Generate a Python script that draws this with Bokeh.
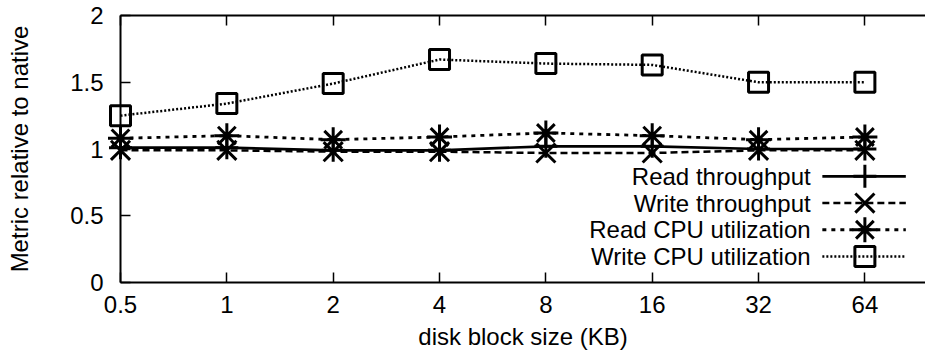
from bokeh.plotting import figure
from bokeh.models import FixedTicker, LinearAxis, Range1d, CustomLabelingPolicy
from bokeh.core.properties import value
from bokeh.embed import file_html
from bokeh.resources import INLINE

# ---- data ----
block_sizes = ["0.5", "1", "2", "4", "8", "16", "32", "64"]
read_tput = [1.01, 1.01, 0.99, 0.99, 1.02, 1.02, 1.00, 1.00]
write_tput = [0.99, 0.99, 0.98, 0.98, 0.97, 0.97, 0.99, 0.99]
read_cpu = [1.08, 1.10, 1.07, 1.09, 1.12, 1.10, 1.07, 1.09]
write_cpu = [1.25, 1.34, 1.49, 1.67, 1.64, 1.63, 1.50, 1.50]
series_names = ["Read throughput", "Write throughput", "Read CPU utilization", "Write CPU utilization"]
y_ticks = [0, 0.5, 1, 1.5, 2]
y_tick_labels = ["0", "0.5", "1", "1.5", "2"]
x_title = "disk block size (KB)"
y_title = "Metric relative to native"

FONT = "Liberation Sans"
FS = "24px"

xi = list(range(len(block_sizes)))

p = figure(frame_width=805, frame_height=267, output_backend="svg", toolbar_location=None,
           x_range=Range1d(0, 7.57), y_range=Range1d(0, 2),
           min_border_left=120, min_border_right=0, min_border_top=15, min_border_bottom=76)
p.outline_line_color = None
p.xgrid.visible = False
p.ygrid.visible = False
p.background_fill_color = "white"
p.border_fill_color = "white"

def style_axis(ax):
    ax.axis_line_width = 2
    ax.axis_line_color = "black"
    ax.major_tick_in = 10
    ax.major_tick_out = 0
    ax.major_tick_line_width = 1.5
    ax.major_tick_line_color = "black"
    ax.minor_tick_line_color = None
    ax.major_label_text_font = FONT
    ax.major_label_text_font_size = FS
    ax.major_label_text_color = "black"
    ax.axis_label_text_font = FONT
    ax.axis_label_text_font_size = FS
    ax.axis_label_text_font_style = "normal"
    ax.axis_label_text_color = "black"

xa = p.xaxis[0]
style_axis(xa)
xa.ticker = FixedTicker(ticks=xi)
xa.major_label_overrides = {i: s for i, s in zip(xi, block_sizes)}
xa.major_label_standoff = 13
xa.axis_label = x_title
xa.axis_label_standoff = 7

ya = p.yaxis[0]
style_axis(ya)
ya.ticker = FixedTicker(ticks=y_ticks)
ya.major_label_overrides = {t: s for t, s in zip(y_ticks, y_tick_labels)}
ya.major_label_standoff = 17
ya.axis_label = y_title
ya.axis_label_standoff = 34

# mirrored ticks on the top border (no labels)
top = LinearAxis(ticker=FixedTicker(ticks=xi))
style_axis(top)
top.major_label_standoff = 0
top.major_label_text_font_size = "0px"
top.major_label_policy = CustomLabelingPolicy(
    code="for (const i of Array.from(indices)) { indices.unset(i) } return indices")
p.add_layout(top, "above")

# ---- series ----
styles = [
    dict(dash="solid", lw=2.7, marker="cross", size=23),
    dict(dash="7 4", lw=2.5, marker="x", size=27),
    dict(dash="4 5", lw=2.8, marker="asterisk", size=25),
    dict(dash="2 2", lw=2.5, marker="square", size=20),
]
all_series = [read_tput, write_tput, read_cpu, write_cpu]

renderers = []
for vals, st in zip(all_series, styles):
    renderers.append(p.line(xi, vals, line_color="black", line_width=st["lw"], line_dash=st["dash"]))
    renderers.append(p.scatter(xi, vals, marker=st["marker"], size=st["size"],
                               line_color="black", line_width=3, fill_color=None))

# ---- legend (gnuplot style: label then sample) ----
leg_top = 0.795
leg_step = 0.2
leg_text_x = 6.49
leg_line_x0 = 6.6
leg_line_x1 = 7.385
leg_mark_x = 7.0
for i, (name, st) in enumerate(zip(series_names, styles)):
    ly = leg_top - i * leg_step
    renderers.append(p.text([leg_text_x], [ly], text=[name], text_align="right", text_baseline="middle",
                            text_font=value(FONT), text_font_size=FS, text_color="black"))
    renderers.append(p.line([leg_line_x0, leg_line_x1], [ly, ly], line_color="black",
                            line_width=st["lw"], line_dash=st["dash"]))
    renderers.append(p.scatter([leg_mark_x], [ly], marker=st["marker"], size=st["size"],
                               line_color="black", line_width=3, fill_color=None))

for r in renderers:
    r.level = "overlay"

open("out.html", "w").write(file_html(p, INLINE))
